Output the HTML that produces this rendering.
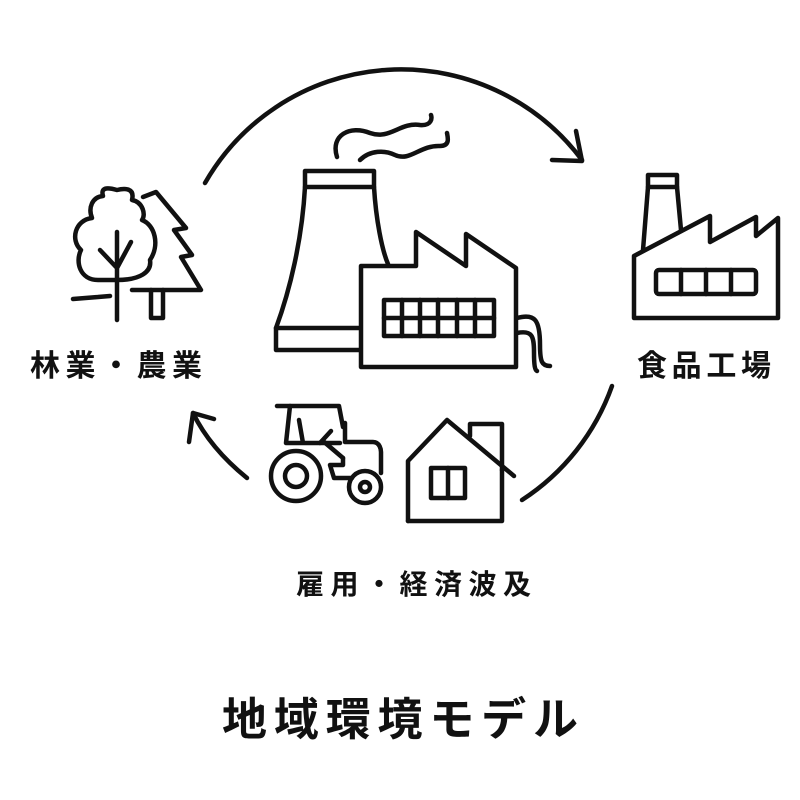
<!DOCTYPE html>
<html><head><meta charset="utf-8"><style>
html,body{margin:0;padding:0;background:#fff;width:800px;height:800px;overflow:hidden}
svg{display:block}
text{font-family:"Liberation Sans","Noto Sans CJK JP",sans-serif;font-weight:bold;fill:#111}
</style></head><body>
<svg width="800" height="800" viewBox="0 0 800 800" xmlns="http://www.w3.org/2000/svg">
<g fill="none" stroke="#111" stroke-width="4.5" stroke-linecap="round" stroke-linejoin="round">
<path d="M205,183 A226,226 0 0 1 582,160"/>
<path d="M552,160 L582,161 L576,131"/>
<path d="M612,386 A226,226 0 0 1 522,500"/>
<path d="M247,478 Q210,448 193,413"/>
<path d="M189,442 L193,413 L214,419"/>
<path d="M337,157 C330,135 350,125 370,133 C390,140 400,122 420,125 C432,126 432,118 431,115"/>
<path d="M360,160 C370,150 385,150 395,155 C410,162 420,145 440,146 C450,146 448,138 447,133"/>
<path d="M305,171 H374 V187 H305 Z"/>
<path d="M305,187 C302,240 290,290 276,328 L276,350 H360"/>
<path d="M374,187 C376,220 382,250 388,264"/>
<path d="M276,328 H360"/>
<path d="M361,266 V367 H516 V268 L466,234 V266 L416,232 V266 Z"/>
<rect x="384" y="300" width="110" height="36"/>
<path d="M402,300V336M420,300V336M438,300V336M457,300V336M475,300V336M384,318H494"/>
<path d="M517,318 C535,313 540,320 540,345 C540,362 542,366 550,366"/>
<path d="M517,333 C532,330 534,336 534,352 C534,366 535,370 537,371"/>
<path d="M648,175 H677 V187 H648 Z"/>
<path d="M648,187 L643,250 M677,187 L681,230"/>
<path d="M634,256 V318 H778 V218 L756,236 V217 L710,242 V216 L634,256"/>
<rect x="656" y="270" width="100" height="24" rx="3"/>
<path d="M681,270V294M706,270V294M731,270V294"/>
<path d="M117,280 H98 C80,280 75,262 81,250 C70,240 75,220 92,218 C88,208 92,197 103,196 C100,186 110,188 117,190 C125,188 135,188 132,200 C143,202 146,215 142,220 C155,225 160,245 150,260 C152,272 140,280 117,280 Z"/>
<path d="M117,232 V320 M100,250 L117,268 L131,242"/>
<path d="M143,197 L156,192 L186,228 L174,230 L192,255 L181,257 L201,290 H132"/>
<path d="M151,290 V318 H163 V290"/>
<path d="M73,299 L98,297 M98,297 L110,296"/>
<path d="M277,406 H339 L343,427"/>
<path d="M290,406 L286,443 M299,420 L303,443 M286,443 H340"/>
<path d="M323,441 L343,458 M320,443 L331,431"/>
<path d="M345,423 V442 H373 C380,442 381,450 381,452 V473"/>
<path d="M343,458 V465 H330 M330,465 L334,478 H352"/>
<circle cx="296" cy="476" r="25"/>
<circle cx="296" cy="476" r="11"/>
<circle cx="365" cy="487" r="16"/>
<circle cx="365" cy="487" r="5"/>
<path d="M408,521 V461 L447,420 L514,476"/>
<path d="M408,521 H502 V470"/>
<path d="M470,436 V424 H502 V470"/>
<rect x="431" y="468" width="34" height="30"/>
<path d="M448,468V498"/>
</g>
<text x="30" y="376" font-size="30" textLength="172" lengthAdjust="spacing">林業・農業</text>
<text x="637" y="376" font-size="30" textLength="134" lengthAdjust="spacing">食品工場</text>
<text x="296" y="594" font-size="28" textLength="235" lengthAdjust="spacing">雇用・経済波及</text>
<text x="222" y="735" font-size="45" textLength="356" lengthAdjust="spacing">地域環境モデル</text>
</svg>
</body></html>
